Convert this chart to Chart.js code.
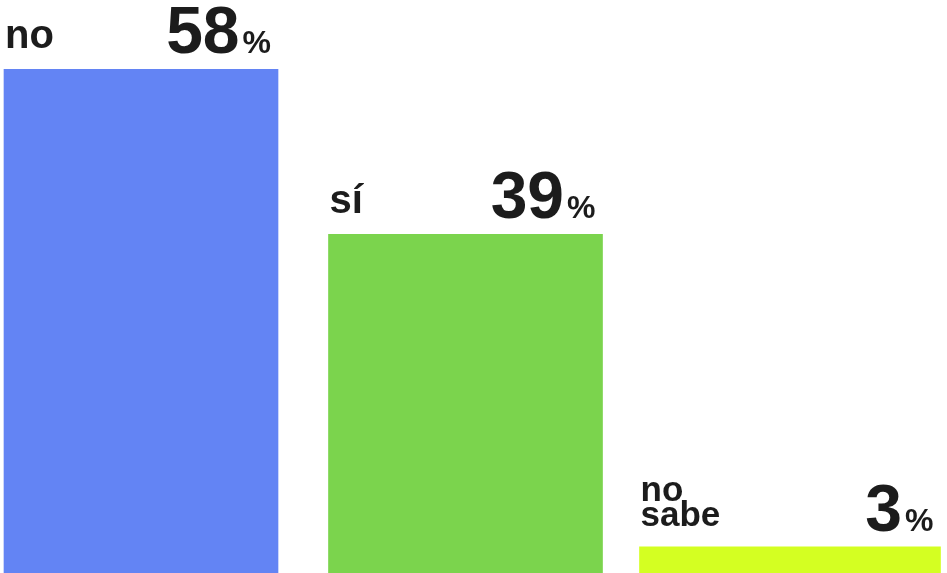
<!DOCTYPE html>
<html>
<head>
<meta charset="utf-8">
<script src="https://cdn.jsdelivr.net/npm/chart.js@4"></script>
<style>
  html, body { margin: 0; padding: 0; background: #fff; }
  #chart { display: block; }
</style>
</head>
<body>
<canvas id="chart" width="947" height="573"></canvas>
<script>
const categories = ['no', 'sí', 'no sabe'];
const labelLines = [['no'], ['sí'], ['no', 'sabe']];
const values = [58, 39, 3];
const barColors = ['#6384f4', '#7bd44d', '#d4ff22'];
const barWidths = [274, 274, 301];

const textColor = '#1c1c1c';
const fontFamily = '"Liberation Sans", Arial, sans-serif';

// one dataset per answer so each bar can keep its own width
const datasets = values.map((v, i) => ({
  label: categories[i],
  data: categories.map((c, j) => (j === i ? v : null)),
  backgroundColor: barColors[i],
  borderWidth: 0,
  barThickness: barWidths[i],
  clip: false,
}));

const barLabels = {
  id: 'barLabels',
  afterDatasetsDraw(chart) {
    const ctx = chart.ctx;
    ctx.save();
    ctx.fillStyle = textColor;
    ctx.textBaseline = 'alphabetic';
    chart.data.datasets.forEach((ds, i) => {
      const bar = chart.getDatasetMeta(i).data[i];
      if (!bar) return;
      const left = bar.x - bar.width / 2;
      const right = bar.x + bar.width / 2;

      // answer label, left aligned, lines stacked upward
      const lines = labelLines[i];
      const small = lines.length > 1;
      ctx.font = `bold ${small ? 35 : 40}px ${fontFamily}`;
      ctx.textAlign = 'left';
      lines.slice().reverse().forEach((ln, k) => {
        ctx.fillText(ln, left + 1, bar.y - 21 - k * 25);
      });

      // big number + small percent sign, right aligned
      const base = bar.y - 16;
      ctx.font = `bold 32px ${fontFamily}`;
      ctx.textAlign = 'right';
      const pctW = ctx.measureText('%').width;
      ctx.fillText('%', right - 7, base);
      ctx.font = `bold 66px ${fontFamily}`;
      ctx.fillText(String(values[i]), right - 7 - pctW - 3, base);
    });
    ctx.restore();
  }
};

new Chart(document.getElementById('chart'), {
  type: 'bar',
  data: { labels: categories, datasets },
  options: {
    responsive: false,
    animation: false,
    layout: { padding: { left: 141, right: 157, top: 0, bottom: 0 } },
    datasets: { bar: { grouped: false } },
    plugins: {
      legend: { display: false },
      tooltip: { enabled: false },
    },
    scales: {
      x: { display: false, offset: false, grid: { display: false } },
      y: { display: false, min: 0, max: 66, grid: { display: false } },
    },
  },
  plugins: [barLabels],
});
</script>
</body>
</html>
